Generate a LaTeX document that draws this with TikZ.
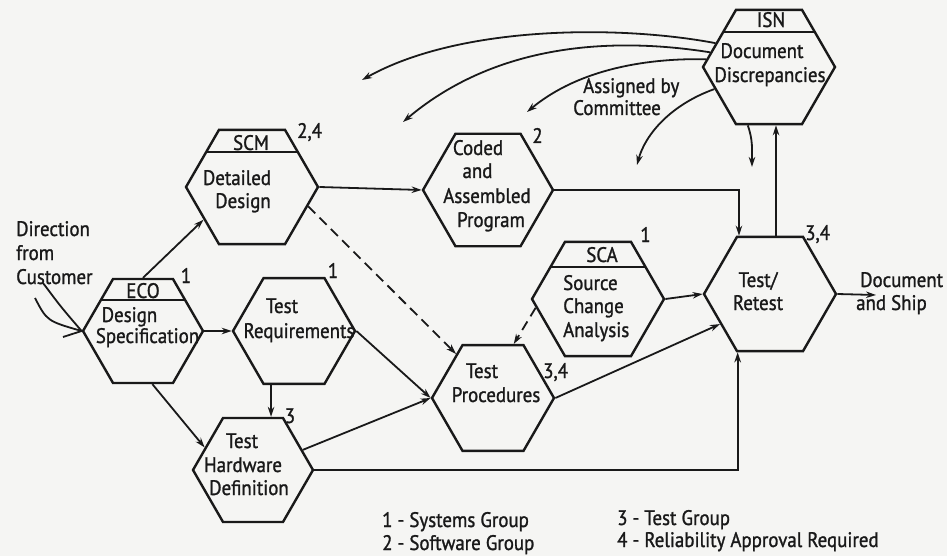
\documentclass[tikz,border=0pt]{standalone}
\usepackage{fontspec}
\setmainfont[FakeStretch=0.9,FakeBold=1.2]{PT Sans}
\usetikzlibrary{shapes.geometric,arrows.meta,calc}
\definecolor{paper}{RGB}{245,245,243}
\definecolor{ink}{RGB}{25,25,25}
\newcommand\dgfont{\fontsize{21}{24}\selectfont}
\begin{document}
\begin{tikzpicture}[x=1pt,y=-1pt,
  hex/.style={regular polygon, regular polygon sides=6, minimum size=#1, inner sep=0pt, draw=ink, line width=2.4pt},
  hdr/.style={draw=ink, line width=2pt},
  txt/.style={font=\dgfont, text=ink, inner sep=0pt, anchor=base},
  txtw/.style={txt, anchor=base west},
  conn/.style={draw=ink, line width=1.8pt, -{Stealth[length=10pt,width=6.5pt]}},
  dconn/.style={conn, dash pattern=on 10pt off 6pt},
  cust/.style={draw=ink, line width=1.8pt},
]
\fill[paper] (0,0) rectangle (947,556);
\useasboundingbox (0,0) rectangle (947,556);

% hexagons
\node[hex=120] (eco) at (143,331) {};
\node[hex=132] (scm) at (252,187) {};
\node[hex=130] (coded) at (488,190) {};
\node[hex=132] (isn) at (769,67) {};
\node[hex=122] (treq) at (294,331) {};
\node[hex=120] (thw) at (253,470) {};
\node[hex=122] (tproc) at (493,398) {};
\node[hex=132] (sca) at (598,299) {};
\node[hex=132] (tr) at (770,294) {};

% header separators
\draw[hdr] ($(eco.center)+(-42,-31)$) -- ($(eco.center)+(42,-31)$);
\draw[hdr] ($(scm.center)+(-46,-35)$) -- ($(scm.center)+(46,-35)$);
\draw[hdr] ($(isn.center)+(-46,-35)$) -- ($(isn.center)+(46,-35)$);
\draw[hdr] ($(sca.center)+(-47,-32)$) -- ($(sca.center)+(47,-32)$);

% texts in hexagons
\node[txt] (ecoh) at (143,298) {ECO};
\node[txt] (eco1) at (129.5,322) {Design};
\node[txt] (eco2) at (147.5,343) {Specification};
\node[txt] (scmh) at (251,150) {SCM};
\node[txt] (scm1) at (237,185) {Detailed};
\node[txt] (scm2) at (243,208) {Design};
\node[txt] (cod1) at (478,155) {Coded};
\node[txt] (cod2) at (477.5,178) {and};
\node[txt] (cod3) at (487,203) {Assembled};
\node[txt] (cod4) at (491,227) {Program};
\node[txt] (isnh) at (771,27) {ISN};
\node[txt] (isn1) at (762,58) {Document};
\node[txt] (isn2) at (770,82) {Discrepancies};
\node[txt] (trq1) at (282,313) {Test};
\node[txt] (trq2) at (299,338) {Requirements};
\node[txt] (thw1) at (242,448) {Test};
\node[txt] (thw2) at (243,472) {Hardware};
\node[txt] (thw3) at (249,495) {Definition};
\node[txt] (tpr1) at (482,378) {Test};
\node[txt] (tpr2) at (496,402) {Procedures};
\node[txt] (scah) at (602,262) {SCA};
\node[txtw] (sca1) at (563,290) {Source};
\node[txtw] (sca2) at (563,313) {Change};
\node[txtw] (sca3) at (563,337) {Analysis};
\node[txt] (tr1) at (758,287) {Test/};
\node[txt] (tr2) at (758,310) {Retest};

% outside texts
\node[txtw] (ship1) at (860,287) {Document};
\node[txtw] (ship2) at (856,310) {and Ship};
\node[txtw] (dir1) at (16,236) {Direction};
\node[txtw] (dir2) at (16,260) {from};
\node[txtw] (dir3) at (16,284) {Customer};
\node[txtw] (asg1) at (583,93) {Assigned by};
\node[txtw] (asg2) at (573,115) {Committee};

% group numbers
\node[txt] (n1) at (186,283) {1};
\node[txtw] (n2) at (297,138) {2,4};
\node[txt] (n3) at (537.5,143) {2};
\node[txt] (n4) at (333,278) {1};
\node[txt] (n5) at (290,423) {3};
\node[txt] (n6) at (645.5,242) {1};
\node[txtw] (n7) at (543,378) {3,4};
\node[txtw] (n8) at (805,240) {3,4};

% legend
\node[txtw] (lg1) at (382,527) {1 - Systems Group};
\node[txtw] (lg2) at (382,550) {2 - Software Group};
\node[txtw] (lg3) at (617,525) {3 - Test Group};
\node[txtw] (lg4) at (617,547) {4 - Reliability Approval Required};

% connectors
\draw[conn] (eco.north) -- (scm.214);
\draw[conn] (eco.east) -- (treq.west);
\draw[conn] (eco.280) -- (thw.155);
\draw[conn] (treq.247) -- (treq.247 |- thw.north);
\draw[conn] (treq.east) -- (tproc.west);
\draw[conn] (thw.22) -- (tproc.west);
\draw[conn] (thw.east) -| (tr.241);
\draw[conn] (tproc.east) -- (tr.211);
\draw[conn] (sca.east) -- (tr.west);
\draw[dconn] (sca.188) -- (tproc.69);
\draw[dconn] (scm.341) -- (tproc.130);
\draw[conn] (scm.east) -- (coded.west);
\draw[conn] (coded.east) -| (tr.118);
\draw[conn] ($(tr.north)+(6,0)$) -- ($(isn.south)+(7,0)$);

% customer arrow
\coordinate (cs1) at (35,298);
\coordinate (cs2) at (43,283);
\coordinate (cs3) at (63,337);
\draw[cust] (cs1) .. controls (47,321) .. (eco.west);
\draw[cust] (cs2) .. controls (61,307) .. (eco.west);
\draw[cust] (cs3) -- (eco.west);

% ship arrow
\coordinate (ship) at (876,295);
\draw[conn] (tr.east) -- (ship);

% ISN feedback arrows
\coordinate (fa) at (362,80);
\coordinate (fb) at (403,122);
\coordinate (fc) at (527,112);
\coordinate (fd) at (637,165);
\coordinate (fe) at (752,167);
\draw[conn] (isn.156) .. controls (620,25) and (460,25) .. (fa);
\draw[conn] (isn.166) .. controls (620,38) and (500,40) .. (fb);
\draw[conn] (isn.173) .. controls (650,58) and (580,68) .. (fc);
\draw[conn] (isn.202) .. controls (670,105) and (645,135) .. (fd);
\draw[conn] (isn.250) .. controls (753,140) and (752,150) .. (fe);
\end{tikzpicture}
\end{document}
